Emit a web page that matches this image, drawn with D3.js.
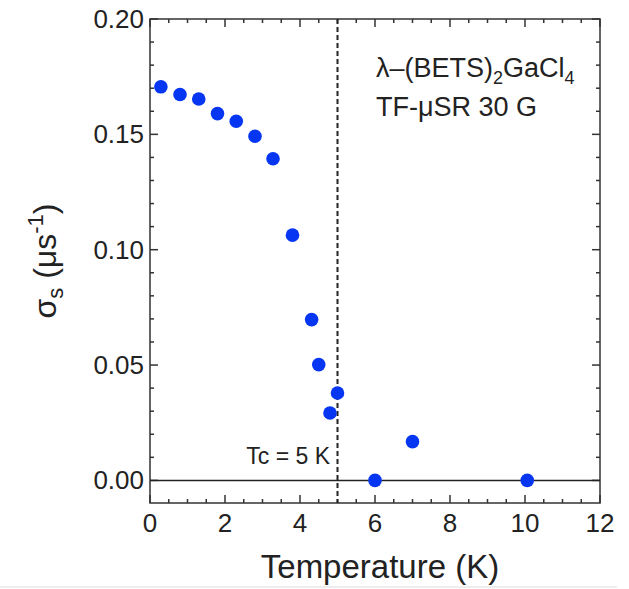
<!DOCTYPE html>
<html>
    <head>
        <meta charset="UTF-8"/>
        <style>
            body { margin: 0; background: #fff; }
            text { font-family: "Liberation Sans", Arial, sans-serif; fill: #222; }
        </style>
    </head>
    <body>
        <svg width="629" height="589"></svg>
        <script src="https://d3js.org/d3.v7.min.js" type="text/javascript"></script>
        <script>
            // measured muon depolarisation rate vs temperature
            let temps  = [0.29, 0.80, 1.30, 1.80, 2.30, 2.80, 3.28, 3.80, 4.31, 4.50, 5.00, 4.80, 6.00, 7.00, 10.06];
            let sigmas = [0.1706, 0.1673, 0.1653, 0.1590, 0.1557, 0.1492, 0.1394, 0.1063, 0.0697, 0.0502, 0.0379, 0.0292, 0.0, 0.0168, 0.0];
            let xTicks = [0, 2, 4, 6, 8, 10, 12];
            let yTicks = [0.00, 0.05, 0.10, 0.15, 0.20];
            let tc = 5;

            let svg = d3.select("svg");
            let pLeft = 150, pRight = 600, pTop = 19, pBottom = 503;

            let x = d3.scaleLinear().domain([0, 12]).range([pLeft, pRight]);
            let y = d3.scaleLinear().domain([-0.0098, 0.20]).range([pBottom, pTop]);

            let tickColor = "#333";

            // frame ticks (inward on all four sides)
            let xMinor = d3.range(0, 12.01, 0.5);
            let yMinor = d3.range(0, 0.2001, 0.01);
            function isMajorX(v) { return Math.abs(v / 2 - Math.round(v / 2)) < 1e-6; }
            function isMajorY(v) { return Math.abs(v / 0.05 - Math.round(v / 0.05)) < 1e-6; }

            let g = svg.append("g");
            xMinor.forEach(function(v) {
                let len = isMajorX(v) ? 8 : 4;
                g.append("line").attr("x1", x(v)).attr("x2", x(v))
                    .attr("y1", pBottom).attr("y2", pBottom - len)
                    .attr("stroke", tickColor).attr("stroke-width", 1.5);
                g.append("line").attr("x1", x(v)).attr("x2", x(v))
                    .attr("y1", pTop).attr("y2", pTop + len)
                    .attr("stroke", tickColor).attr("stroke-width", 1.5);
            });
            yMinor.forEach(function(v) {
                let len = isMajorY(v) ? 8 : 4;
                g.append("line").attr("y1", y(v)).attr("y2", y(v))
                    .attr("x1", pLeft).attr("x2", pLeft + len)
                    .attr("stroke", tickColor).attr("stroke-width", 1.5);
                g.append("line").attr("y1", y(v)).attr("y2", y(v))
                    .attr("x1", pRight).attr("x2", pRight - len)
                    .attr("stroke", tickColor).attr("stroke-width", 1.5);
            });

            svg.append("rect")
                .attr("x", pLeft).attr("y", pTop)
                .attr("width", pRight - pLeft).attr("height", pBottom - pTop)
                .attr("fill", "none").attr("stroke", tickColor).attr("stroke-width", 1.5);

            // tick labels
            svg.selectAll(".xl").data(xTicks).enter().append("text")
                .attr("x", function(d) { return x(d); })
                .attr("y", 532)
                .attr("text-anchor", "middle")
                .attr("font-size", 26)
                .text(function(d) { return d; });

            svg.selectAll(".yl").data(yTicks).enter().append("text")
                .attr("x", 144)
                .attr("y", function(d) { return y(d) + 9; })
                .attr("text-anchor", "end")
                .attr("font-size", 26)
                .text(function(d) { return d.toFixed(2); });

            // zero line
            svg.append("line")
                .attr("x1", pLeft).attr("x2", pRight)
                .attr("y1", y(0)).attr("y2", y(0))
                .attr("stroke", "#222").attr("stroke-width", 1.5);

            // Tc dashed line
            svg.append("line")
                .attr("x1", x(tc)).attr("x2", x(tc))
                .attr("y1", pTop).attr("y2", pBottom)
                .attr("stroke", "#222").attr("stroke-width", 2)
                .attr("stroke-dasharray", "5,3");

            // points
            svg.selectAll("circle").data(temps).enter().append("circle")
                .attr("cx", function(d) { return x(d); })
                .attr("cy", function(d, i) { return y(sigmas[i]); })
                .attr("r", 6.8)
                .attr("fill", "#0636f2");

            // annotations
            let t1 = svg.append("text").attr("x", 376).attr("y", 77).attr("font-size", 27);
            t1.append("tspan").text("λ–(BETS)");
            t1.append("tspan").attr("font-size", 18).attr("dy", 7).text("2");
            t1.append("tspan").attr("dy", -7).text("GaCl");
            t1.append("tspan").attr("font-size", 18).attr("dy", 7).text("4");

            svg.append("text").attr("x", 376).attr("y", 116).attr("font-size", 27)
                .text("TF-μSR 30 G");

            svg.append("text").attr("x", 330).attr("y", 464).attr("font-size", 23)
                .attr("text-anchor", "end")
                .text("Tc = 5 K");

            // axis titles
            svg.append("text").attr("x", 380).attr("y", 578).attr("font-size", 33)
                .attr("text-anchor", "middle")
                .text("Temperature (K)");

            let yt = svg.append("text")
                .attr("transform", "translate(56," + ((pTop + pBottom) / 2) + ") rotate(-90)")
                .attr("text-anchor", "middle")
                .attr("font-size", 32);
            yt.append("tspan").text("σ");
            yt.append("tspan").attr("font-size", 22).attr("dy", 7).text("s");
            yt.append("tspan").attr("dy", -7).text(" (μs");
            yt.append("tspan").attr("font-size", 22).attr("dy", -13).text("-1");
            yt.append("tspan").attr("dy", 13).text(")");

            // bottom border of the figure
            svg.append("line").attr("x1", 0).attr("x2", 617)
                .attr("y1", 587).attr("y2", 587)
                .attr("stroke", "#ddd").attr("stroke-width", 1);
        </script>
    </body>
</html>
